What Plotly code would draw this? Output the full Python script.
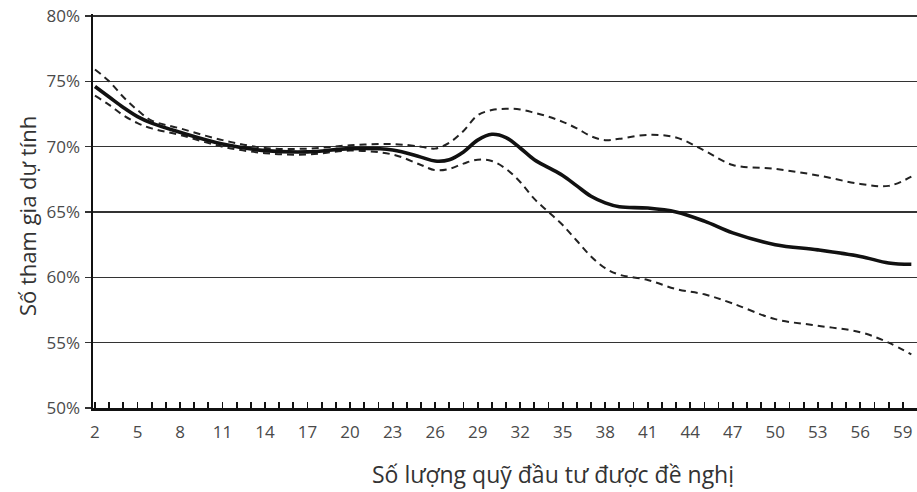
import plotly.graph_objects as go

# Data
x_vals = [2, 3, 4, 5, 6, 8, 11, 14, 17, 20, 23, 25, 26, 27, 28, 29, 30, 31, 32, 33,
          34, 35, 36, 37, 38, 39, 41, 43, 45, 47, 50, 53, 56, 58, 59.6]
estimate = [74.6, 73.8, 73.0, 72.3, 71.8, 71.1, 70.2, 69.7, 69.6, 69.85, 69.75, 69.2,
            68.9, 69.0, 69.6, 70.5, 70.95, 70.7, 69.9, 69.0, 68.4, 67.8, 67.0, 66.2,
            65.7, 65.4, 65.3, 65.0, 64.3, 63.4, 62.5, 62.1, 61.6, 61.1, 61.0]
upper = [75.9, 75.0, 73.8, 72.8, 72.0, 71.4, 70.5, 69.9, 69.85, 70.1, 70.2, 70.0,
         69.85, 70.3, 71.2, 72.4, 72.8, 72.9, 72.85, 72.6, 72.3, 71.9, 71.4, 70.8,
         70.5, 70.6, 70.9, 70.7, 69.7, 68.6, 68.3, 67.8, 67.15, 67.0, 67.7]
lower = [73.9, 73.2, 72.4, 71.8, 71.4, 70.9, 70.0, 69.5, 69.4, 69.7, 69.4, 68.6,
         68.2, 68.3, 68.7, 69.0, 68.9, 68.3, 67.3, 66.0, 65.0, 64.0, 62.8, 61.6,
         60.7, 60.2, 59.8, 59.1, 58.7, 58.0, 56.8, 56.3, 55.8, 55.0, 54.1]

y_ticks = [50, 55, 60, 65, 70, 75, 80]
y_tick_labels = ["50%", "55%", "60%", "65%", "70%", "75%", "80%"]
x_ticks = list(range(2, 60, 3))
x_tick_labels = [str(v) for v in x_ticks]

x_title = "Số lượng quỹ đầu tư được đề nghị"
y_title = "Số tham gia dự tính"

FONT = "Open Sans"

# body margin is removed (post_script); plot area spans x 93..917, y 14..408
W, H = 917, 492
ML, MT, MR, MB = 93, 14, 0, 84
PW = W - ML - MR
PH = H - MT - MB
Y_TOP = 50 + PH * 30 / 392.0   # keeps 80% at y=16 while its gridline stays visible

fig = go.Figure()
fig.add_trace(go.Scatter(x=x_vals, y=upper, mode="lines",
                         line=dict(color="#222", width=2, dash="7px,5px", shape="spline", smoothing=1.0),
                         showlegend=False, hoverinfo="skip"))
fig.add_trace(go.Scatter(x=x_vals, y=lower, mode="lines",
                         line=dict(color="#222", width=2, dash="7px,5px", shape="spline", smoothing=1.0),
                         showlegend=False, hoverinfo="skip"))
fig.add_trace(go.Scatter(x=x_vals, y=estimate, mode="lines",
                         line=dict(color="#111", width=3.6, shape="spline", smoothing=1.0),
                         showlegend=False, hoverinfo="skip"))

fig.update_layout(
    width=W, height=H,
    margin=dict(l=ML, r=MR, t=MT, b=MB, autoexpand=False),
    paper_bgcolor="white", plot_bgcolor="white",
    font=dict(family=FONT, color="#444"),
    xaxis=dict(
        range=[1.86, 60.0],
        tickmode="array", tickvals=x_ticks, ticktext=x_tick_labels,
        ticks="inside", ticklen=6, tickwidth=1.8, tickcolor="#111",
        minor=dict(dtick=1, tick0=2, ticks="inside", ticklen=6, tickwidth=1.8, tickcolor="#111", showgrid=False),
        showgrid=False, zeroline=False,
        showline=True, linecolor="#111", linewidth=2.5,
        tickfont=dict(size=17, color="#4a4a4a", family=FONT),
        ticklabelstandoff=7,
        ticklabeloverflow="allow",
    ),
    yaxis=dict(
        range=[50, Y_TOP],
        tickmode="array", tickvals=y_ticks, ticktext=y_tick_labels,
        ticks="outside", ticklen=6, tickwidth=1.2, tickcolor="#333",
        showgrid=True, gridcolor="#333", gridwidth=1.4,
        zeroline=False,
        showline=True, linecolor="#111", linewidth=2.5,
        tickfont=dict(size=17, color="#4a4a4a", family=FONT),
        ticklabelstandoff=1,
        ticklabeloverflow="allow",
    ),
    annotations=[
        dict(text=x_title, xref="paper", yref="paper",
             x=(553 - ML) / PW, y=-(474 - 408) / PH,
             xanchor="center", yanchor="middle", showarrow=False,
             font=dict(size=23, color="#333", family=FONT)),
        dict(text=y_title, xref="paper", yref="paper", textangle=-90,
             x=(27 - ML) / PW, y=(408 - 216) / PH,
             xanchor="center", yanchor="middle", showarrow=False,
             font=dict(size=22, color="#333", family=FONT)),
    ],
)

fig.write_html("out.html",
               config={"displayModeBar": False, "staticPlot": True},
               post_script="document.body.style.margin='0';document.body.style.overflow='hidden';")
